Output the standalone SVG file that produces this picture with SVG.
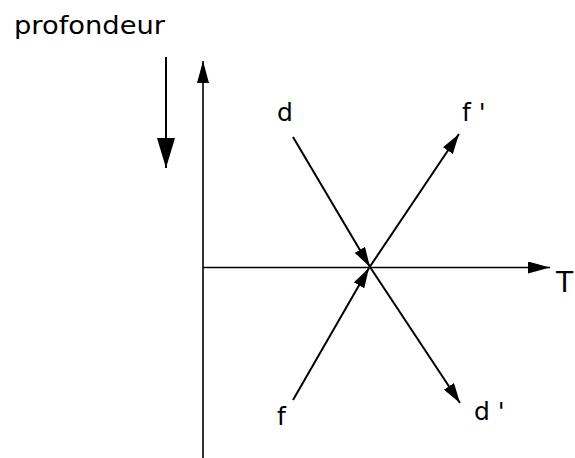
<svg xmlns="http://www.w3.org/2000/svg" width="575" height="458" viewBox="0 0 575 458">
<style>
text{font-family:"DejaVu Sans","Liberation Sans",sans-serif;font-size:25px;fill:#000}
.ln{stroke:#000;stroke-width:2;fill:none}
.ax{stroke:#000;stroke-width:1.6;fill:none}
</style>
<defs>
<marker id="ah" markerUnits="userSpaceOnUse" markerWidth="20" markerHeight="12" refX="20" refY="6" orient="auto"><path d="M0,0 L20,6 L0,12 z" fill="#000"/></marker>
<marker id="ahAx" markerUnits="userSpaceOnUse" markerWidth="22" markerHeight="12" refX="22" refY="6" orient="auto"><path d="M0,0 L22,6 L0,12 z" fill="#000"/></marker>
<marker id="ahBig" markerUnits="userSpaceOnUse" markerWidth="30" markerHeight="18" refX="30" refY="9" orient="auto"><path d="M0,0 L30,9 L0,18 z" fill="#000"/></marker>
</defs>
<g id="labels">
<g id="profondeur"><text x="14" y="34" textLength="151" lengthAdjust="spacingAndGlyphs">profondeur</text></g>
<g id="label-d"><text x="277" y="121">d</text></g>
<g id="label-fp"><text x="462" y="121">f '</text></g>
<g id="label-f"><text x="277" y="425">f</text></g>
<g id="label-dp"><text x="474" y="420">d '</text></g>
<g id="label-T"><text x="556" y="292" style="font-size:28px">T</text></g>
</g>
<g id="connectors">
<line class="ln" x1="166" y1="57" x2="166" y2="168" marker-end="url(#ahBig)"/>
<line class="ax" x1="203" y1="458" x2="203" y2="61" marker-end="url(#ahAx)"/>
<line class="ax" x1="203" y1="267.5" x2="550" y2="267.5" marker-end="url(#ahAx)"/>
<line class="ln" x1="293" y1="137" x2="370" y2="267" marker-end="url(#ah)"/>
<line class="ln" x1="370" y1="267" x2="460" y2="403" marker-end="url(#ah)"/>
<line class="ln" x1="293" y1="400" x2="369" y2="268" marker-end="url(#ah)"/>
<line class="ln" x1="369" y1="268" x2="459" y2="134" marker-end="url(#ah)"/>
</g>
</svg>
